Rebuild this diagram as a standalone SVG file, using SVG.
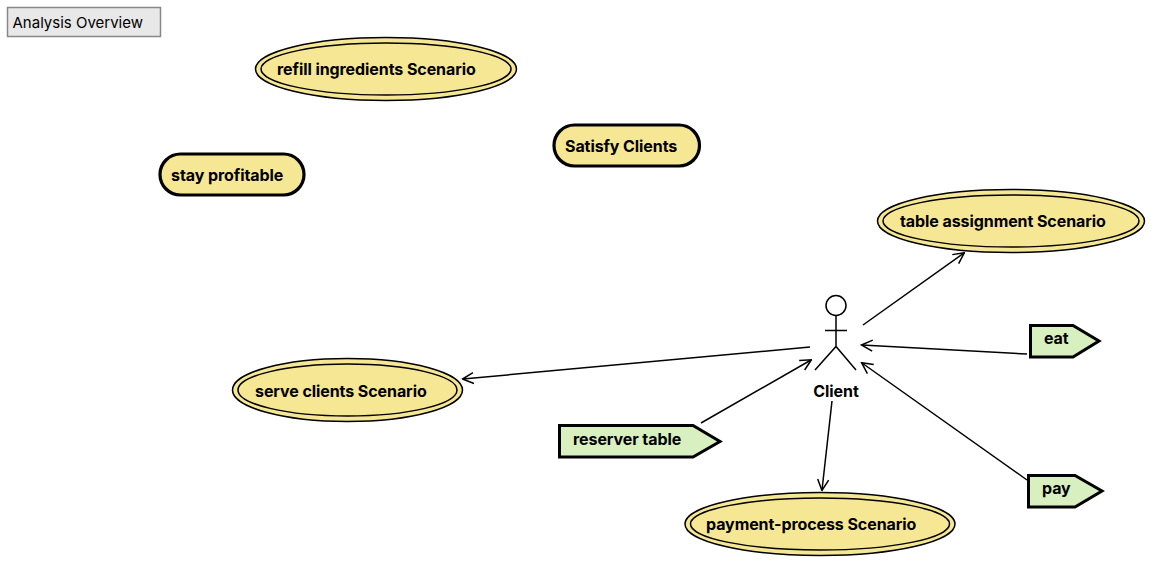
<svg xmlns="http://www.w3.org/2000/svg" width="1155" height="565" viewBox="0 0 1155 565">
<style>
text{font-family:Inter,"Liberation Sans",sans-serif;font-size:16px;font-weight:700;letter-spacing:-.08px;fill:#000}
.uc{fill:#f6e794;stroke:#000;stroke-width:1.5}
.goal{fill:#f6e794;stroke:#000;stroke-width:3.2}
.act{fill:#d8f0c0;stroke:#000;stroke-width:3}
.c{fill:none;stroke:#000;stroke-width:1.5}
</style>
<defs>
<marker id="arr" viewBox="0 0 14 14" refX="12.500" refY="7" markerWidth="14" markerHeight="14" markerUnits="userSpaceOnUse" orient="auto"><path d="M2 1.500L13 7L2 12.500" fill="none" stroke="#000" stroke-width="1.500"/></marker>
</defs>
<g id="title"><rect x="7.500" y="7.500" width="153" height="29" fill="#e8e8e8" stroke="#888" stroke-width="1.500"/><text x="12.500" y="28" style="font-weight:400;font-size:15px;letter-spacing:0">Analysis Overview</text></g>
<g id="connectors">
<path class="c" d="M863 325L964 253" marker-end="url(#arr)"/>
<path class="c" d="M810 347L463 379" marker-end="url(#arr)"/>
<path class="c" d="M1027 354L862 345" marker-end="url(#arr)"/>
<path class="c" d="M1027 480L862 363" marker-end="url(#arr)"/>
<path class="c" d="M701 423L811 360" marker-end="url(#arr)"/>
<path class="c" d="M832 401L822 490" marker-end="url(#arr)"/>
</g>
<g id="refill"><ellipse class="uc" cx="386" cy="69" rx="130.500" ry="31.500"/><ellipse class="uc" cx="386" cy="69" rx="125" ry="26"/><text x="277" y="75">refill ingredients Scenario</text></g>
<g id="satisfy"><rect class="goal" x="554" y="125" width="145.500" height="41" rx="20.500" ry="20.500"/><text x="565" y="152">Satisfy Clients</text></g>
<g id="profitable"><rect class="goal" x="160" y="154" width="144" height="41" rx="20.500" ry="20.500"/><text x="171" y="181">stay profitable</text></g>
<g id="table"><ellipse class="uc" cx="1011" cy="221" rx="133.500" ry="31.500"/><ellipse class="uc" cx="1011" cy="221" rx="128" ry="26"/><text x="900" y="227">table assignment Scenario</text></g>
<g id="serve"><ellipse class="uc" cx="347.500" cy="390" rx="115" ry="31.500"/><ellipse class="uc" cx="347.500" cy="390" rx="109.500" ry="26"/><text x="255" y="397">serve clients Scenario</text></g>
<g id="payment"><ellipse class="uc" cx="820" cy="524" rx="135" ry="31.500"/><ellipse class="uc" cx="820" cy="524" rx="129.500" ry="26"/><text x="706" y="530">payment-process Scenario</text></g>
<g id="client"><circle cx="836" cy="305.500" r="10" fill="#fff" stroke="#000" stroke-width="1.500"/><path class="c" d="M836 315.500V346.500M825 330.500H847M815 370L836 346.500L856 370"/><text x="836" y="397" text-anchor="middle">Client</text></g>
<g id="eat"><path class="act" d="M1030.500 325.500H1073L1099 341L1073 357H1030.500Z"/><text x="1044" y="344">eat</text></g>
<g id="reserver"><path class="act" d="M559.500 425.500H693L720 441.500L693 457H559.500Z"/><text x="573" y="445">reserver table</text></g>
<g id="pay"><path class="act" d="M1028.500 475.500H1075L1102 491L1075 507H1028.500Z"/><text x="1042" y="494">pay</text></g>
</svg>
